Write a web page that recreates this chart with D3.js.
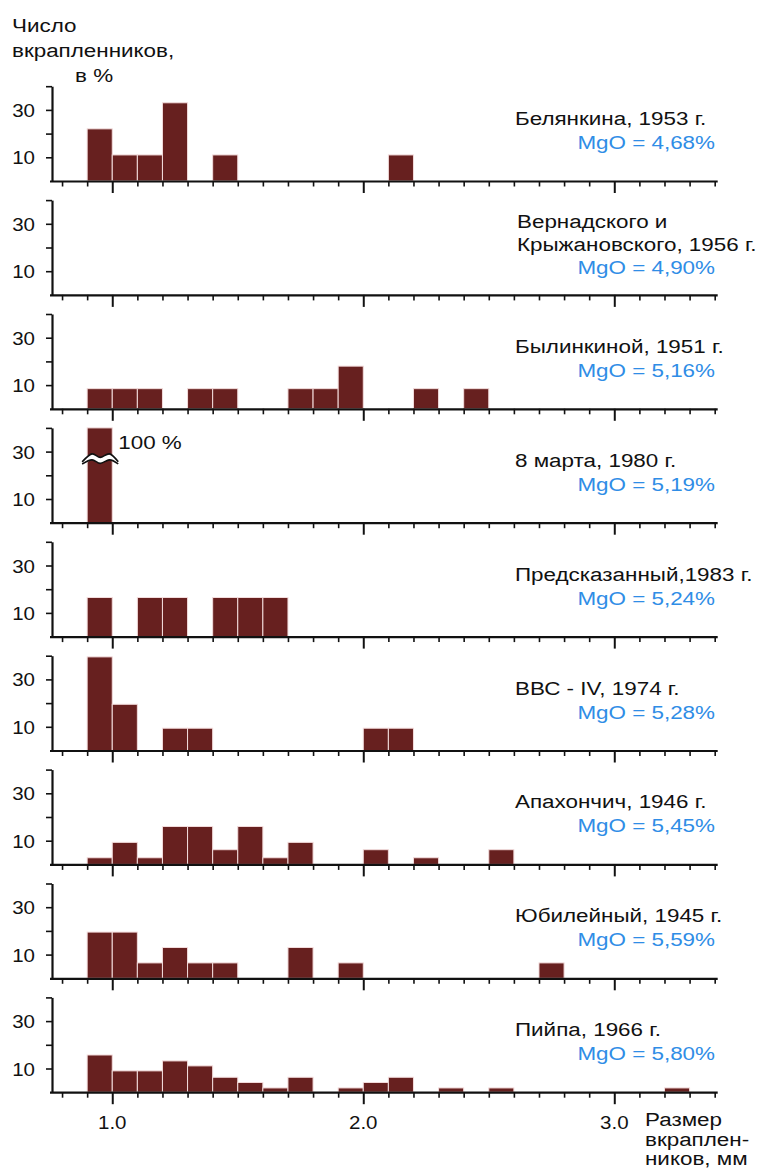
<!DOCTYPE html>
<html>
<head>
<meta charset="utf-8">
<script src="https://cdn.jsdelivr.net/npm/d3@7"></script>
<style>
  html, body { margin: 0; padding: 0; background: #fff; }
  svg { display: block; }
</style>
</head>
<body>
<svg id="chart" width="758" height="1169"></svg>
<script>
// Lower edges of the 0.1 mm size classes, mm
const binStarts = d3.range(25).map(i => +(0.9 + i * 0.1).toFixed(1));

// Eruption / sample names (one panel each, top to bottom)
const sampleTitles = [
  ["Белянкина, 1953 г."],
  ["Вернадского и", "Крыжановского, 1956 г."],
  ["Былинкиной, 1951 г."],
  ["8 марта, 1980 г."],
  ["Предсказанный,1983 г."],
  ["ВВС - IV, 1974 г."],
  ["Апахончич, 1946 г."],
  ["Юбилейный, 1945 г."],
  ["Пийпа, 1966 г."]
];
const mgoLabels = [
  "MgO = 4,68%", "MgO = 4,90%", "MgO = 5,16%", "MgO = 5,19%", "MgO = 5,24%",
  "MgO = 5,28%", "MgO = 5,45%", "MgO = 5,59%", "MgO = 5,80%"
];

// Share of phenocrysts per size class, % (aligned with binStarts)
const belyankina  = [22, 11, 11, 33, 0, 11, 0, 0, 0, 0, 0, 0, 11, 0, 0, 0, 0, 0, 0, 0, 0, 0, 0, 0, 0];
const vernadsky   = [0, 0, 0, 0, 0, 0, 0, 0, 0, 0, 0, 0, 0, 0, 0, 0, 0, 0, 0, 0, 0, 0, 0, 0, 0];
const bylinkina   = [8.5, 8.5, 8.5, 0, 8.5, 8.5, 0, 0, 8.5, 8.5, 18, 0, 0, 8.5, 0, 8.5, 0, 0, 0, 0, 0, 0, 0, 0, 0];
const march1980   = [100, 0, 0, 0, 0, 0, 0, 0, 0, 0, 0, 0, 0, 0, 0, 0, 0, 0, 0, 0, 0, 0, 0, 0, 0];
const predicted   = [16.5, 0, 16.5, 16.5, 0, 16.5, 16.5, 16.5, 0, 0, 0, 0, 0, 0, 0, 0, 0, 0, 0, 0, 0, 0, 0, 0, 0];
const bbcIV       = [39.5, 19.5, 0, 9.4, 9.4, 0, 0, 0, 0, 0, 0, 9.4, 9.4, 0, 0, 0, 0, 0, 0, 0, 0, 0, 0, 0, 0];
const apakhonchich= [2.8, 9.3, 2.8, 16, 16, 6.2, 16, 2.8, 9.3, 0, 0, 6.2, 0, 2.8, 0, 0, 6.2, 0, 0, 0, 0, 0, 0, 0, 0];
const yubileyny   = [19.5, 19.5, 6.5, 13, 6.5, 6.5, 0, 0, 13, 0, 6.5, 0, 0, 0, 0, 0, 0, 0, 6.5, 0, 0, 0, 0, 0, 0];
const piip        = [15.7, 9, 9, 13.2, 11.1, 6.3, 4.1, 1.8, 6.3, 0, 1.8, 4.1, 6.3, 0, 1.8, 0, 1.8, 0, 0, 0, 0, 0, 0, 1.8, 0];

const panelValues = [belyankina, vernadsky, bylinkina, march1980, predicted,
                     bbcIV, apakhonchich, yubileyny, piip];

// Axis ticks
const xMinorTicks = d3.range(8, 35).map(v => v / 10);
const xMajorTicks = [1.0, 2.0, 3.0];
const xTickLabels = ["1.0", "2.0", "3.0"];
const yTicks = [10, 20, 30, 40];
const yTickLabels = [10, 30];
const binWidth = 0.1;
const yMax = 40;

// ---- layout ----
const FONT = "'Liberation Sans', Arial, Helvetica, sans-serif";
const STRETCH = 1.18;       // glyphs in this figure are set wide
const BAR = "#67201f";
const BLUE = "#2f8de6";
const firstBase = 181, panelStep = 113.9, panelH = 94.8;
const axisX = 52;
const titleX = 515, mgoX = 715;

const svg = d3.select("#chart");

const x = d3.scaleLinear().domain([0.75, 3.41]).range([49.5, 717.2]);

function txt(g, str, px, py, opt = {}) {
  const s = opt.stretch || STRETCH;
  return g.append("text")
    .attr("transform", `translate(${px},${py}) scale(${s},1)`)
    .attr("text-anchor", opt.anchor || "start")
    .attr("font-family", FONT)
    .attr("font-size", opt.size || 19)
    .attr("fill", opt.color || "#111")
    .text(str);
}

// y-axis caption
txt(svg, "Число", 12, 32);
txt(svg, "вкрапленников,", 12, 57);
txt(svg, "в %", 75, 82);

const wave = d3.line().curve(d3.curveCardinal);

panelValues.forEach((vals, i) => {
  const base = firstBase + i * panelStep;
  const y = d3.scaleLinear().domain([0, yMax]).range([base, base - panelH]);
  const g = svg.append("g");

  // bars
  const bins = binStarts.map((b, k) => ({ b, v: vals[k] })).filter(d => d.v > 0);
  g.selectAll("rect.bar").data(bins).join("rect")
    .attr("class", "bar")
    .attr("x", d => x(d.b))
    .attr("width", d => x(d.b + binWidth) - x(d.b))
    .attr("y", d => y(Math.min(d.v, yMax)))
    .attr("height", d => base - y(Math.min(d.v, yMax)))
    .attr("fill", BAR)
    .attr("stroke", "#f3dcdc")
    .attr("stroke-width", 1);

  // off-scale bar: break mark and value
  bins.filter(d => d.v > yMax).forEach(d => {
    const x0 = x(d.b) - 5, x1 = x(d.b + binWidth) + 6, c = y(26.5);
    const W = x1 - x0;
    const mid = [[x0, c + 3], [x0 + 0.27 * W, c - 3], [x0 + 0.5 * W, c + 0.5], [x0 + 0.76 * W, c - 3], [x1, c + 3]];
    const shift = (pts, dy) => pts.map(([px, py], k) => [px, py + dy * (k === 0 || k === pts.length - 1 ? 0.35 : 1)]);
    g.append("path").attr("d", wave(mid)).attr("fill", "none")
      .attr("stroke", "#fff").attr("stroke-width", 5.5);
    g.append("path").attr("d", wave(shift(mid, -3))).attr("fill", "none")
      .attr("stroke", "#111").attr("stroke-width", 1.6);
    g.append("path").attr("d", wave(shift(mid, 3))).attr("fill", "none")
      .attr("stroke", "#111").attr("stroke-width", 1.6);
    txt(g, `${d.v} %`, x(d.b + binWidth) + 6, y(34) + 7);
  });

  // x axis
  const xa = g.append("g").attr("transform", `translate(0,${base})`)
    .call(d3.axisBottom(x).tickValues(xMinorTicks).tickFormat("").tickSizeOuter(0));
  xa.select(".domain").attr("stroke", "#111").attr("stroke-width", 2.2);
  const isMajor = d => xMajorTicks.some(m => Math.abs(m - d) < 1e-6);
  xa.selectAll(".tick line")
    .attr("stroke", "#111")
    .attr("stroke-width", d => isMajor(d) ? 2 : 1.6)
    .attr("y2", d => isMajor(d) ? 12 : 5.5);

  // y axis
  const ya = g.append("g").attr("transform", `translate(${axisX},0)`)
    .call(d3.axisLeft(y).tickValues(yTicks).tickFormat("").tickSize(6).tickSizeOuter(0));
  ya.select(".domain").attr("stroke", "#111").attr("stroke-width", 2.2);
  ya.selectAll(".tick line").attr("stroke", "#111").attr("stroke-width", 1.6);
  yTickLabels.forEach(t => txt(g, t, axisX - 17, y(t) + 7, { anchor: "end", size: 19, stretch: 1.08 }));

  // panel titles
  const lines = sampleTitles[i];
  if (lines.length === 1) {
    txt(g, lines[0], titleX, base - 56);
    txt(g, mgoLabels[i], mgoX, base - 32, { anchor: "end", color: BLUE });
  } else {
    txt(g, lines[0], titleX + 2, base - 67);
    txt(g, lines[1], titleX + 2, base - 44);
    txt(g, mgoLabels[i], mgoX, base - 21, { anchor: "end", color: BLUE });
  }
});

// size labels under the last panel
const lastBase = firstBase + (panelValues.length - 1) * panelStep;
xMajorTicks.forEach((t, k) => txt(svg, xTickLabels[k], x(t), lastBase + 37, { anchor: "middle", stretch: 1.08 }));
txt(svg, "Размер", 645, lastBase + 34);
txt(svg, "вкраплен-", 645, lastBase + 54);
txt(svg, "ников, мм", 645, lastBase + 73);
</script>
</body>
</html>
